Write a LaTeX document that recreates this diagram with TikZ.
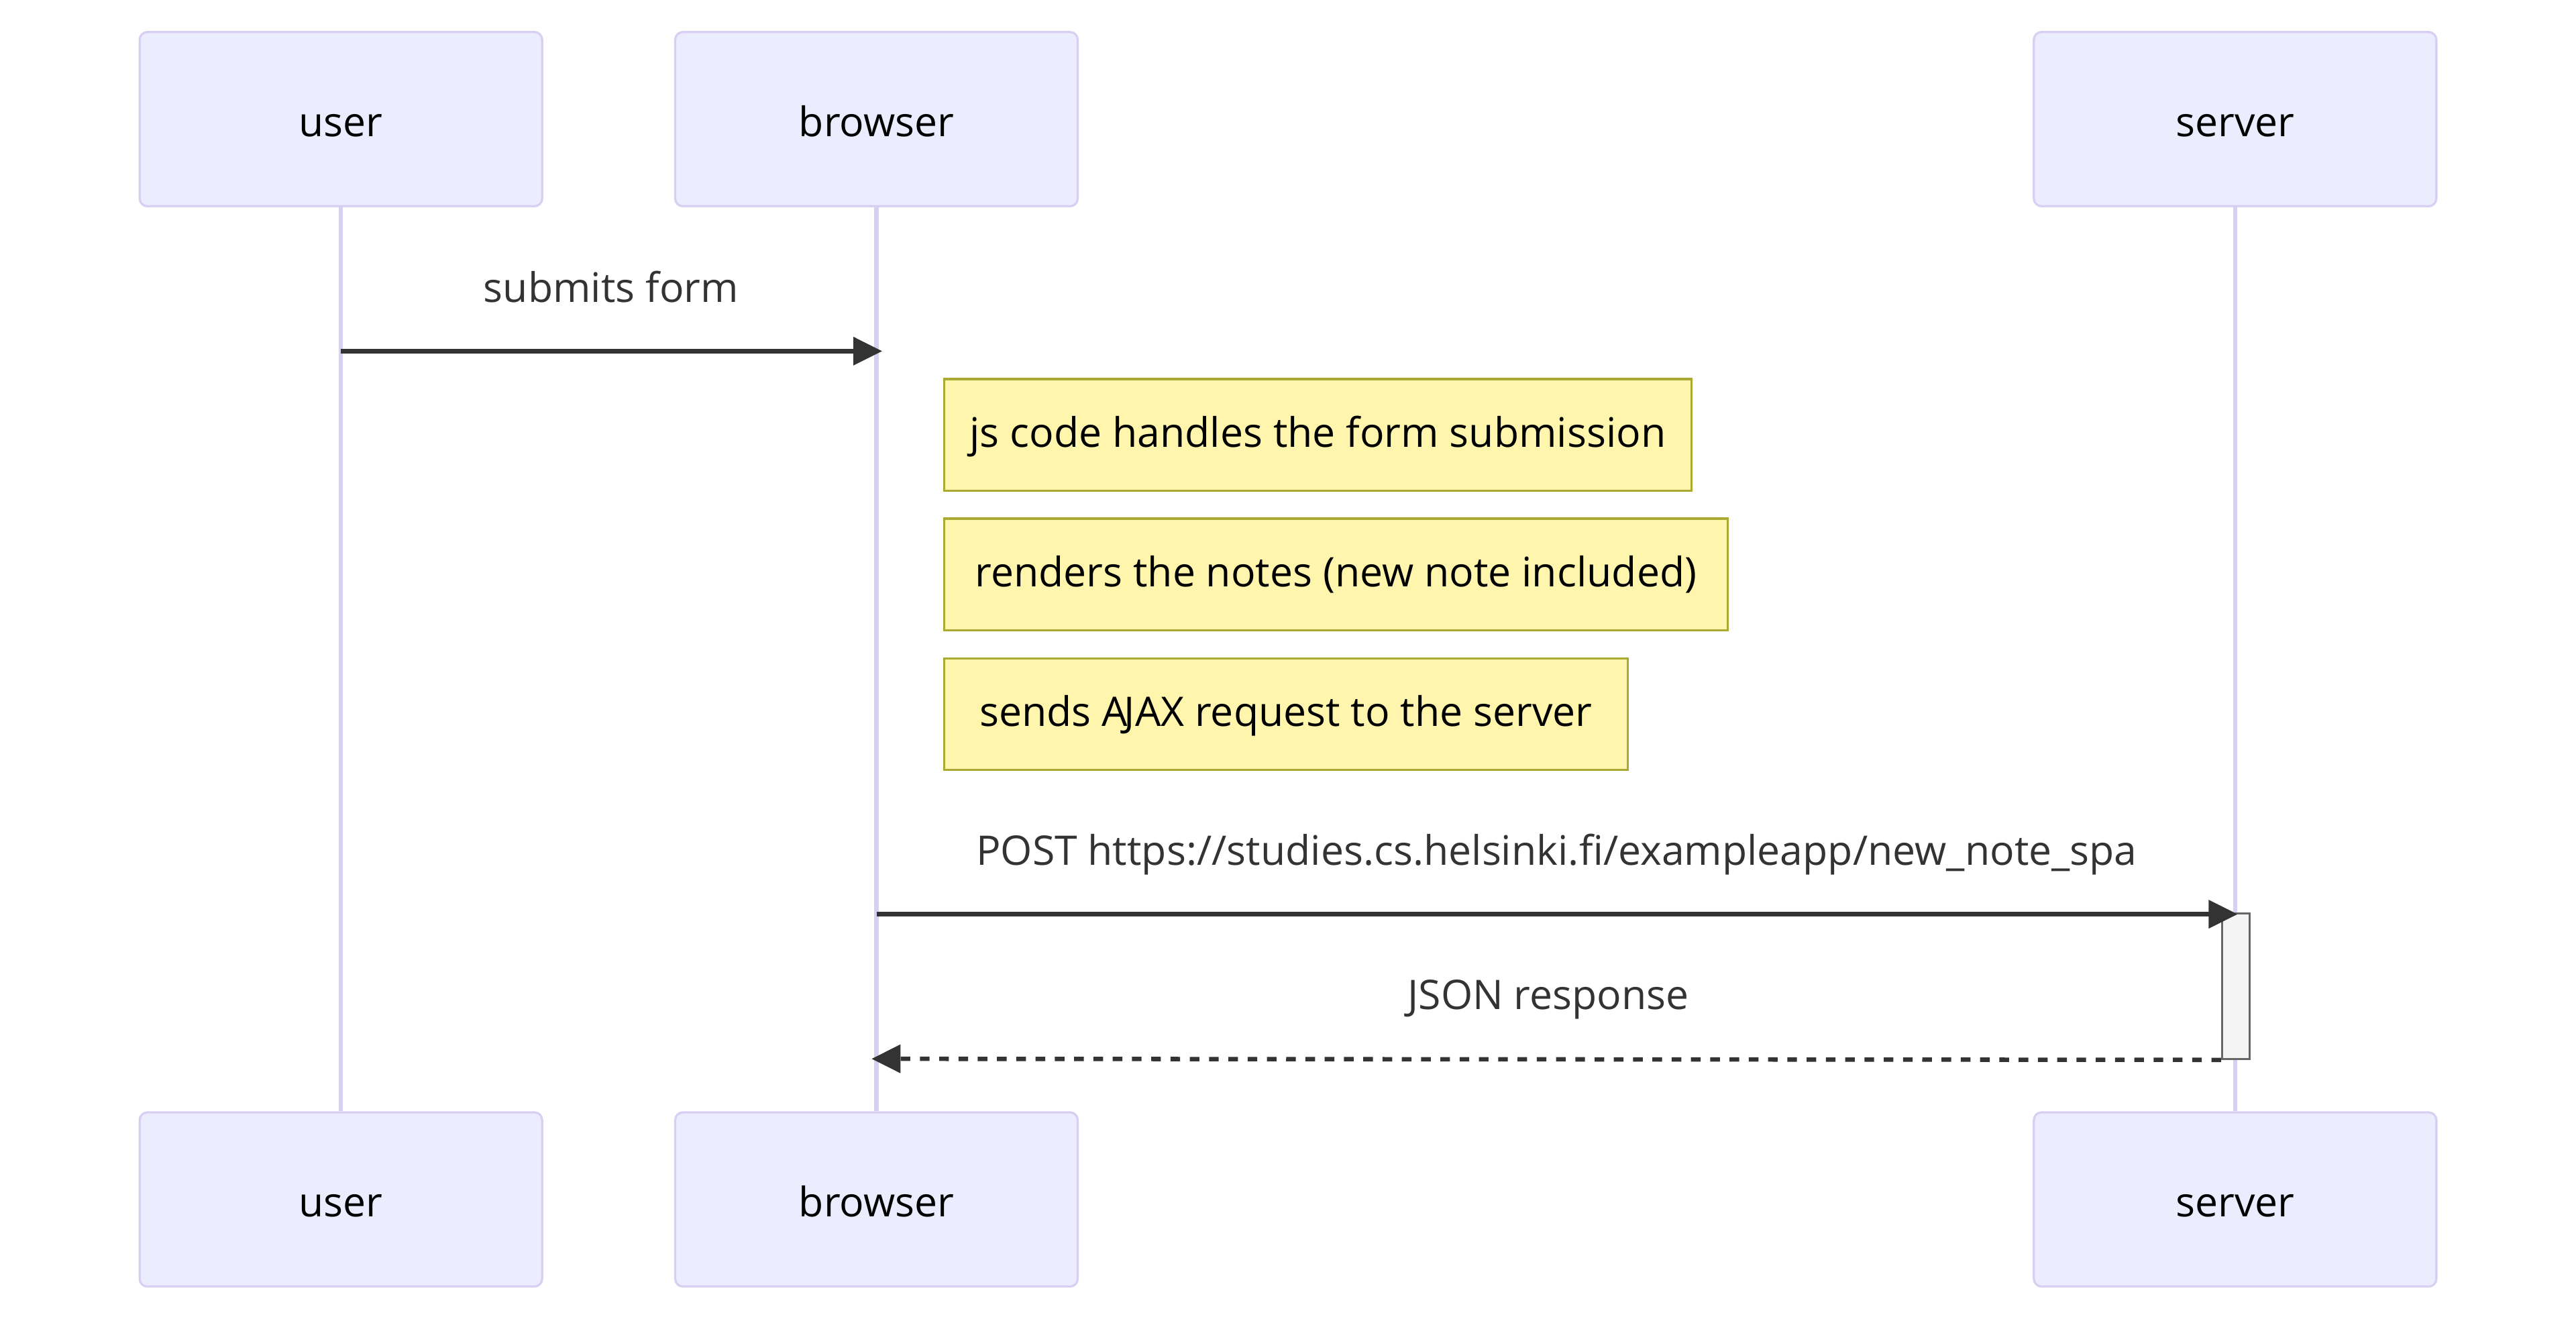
\documentclass[tikz,border=0pt]{standalone}
\usepackage{fontspec}
\setmainfont{Open Sans}
\usetikzlibrary{arrows.meta}
\definecolor{actorfill}{HTML}{ECECFF}
\definecolor{actorline}{HTML}{D9CFF3}
\definecolor{notefill}{HTML}{FFF5AD}
\definecolor{noteline}{HTML}{AAAA33}
\definecolor{msgtext}{HTML}{333333}
\definecolor{actfill}{HTML}{F4F4F4}
\definecolor{actline}{HTML}{666666}
\begin{document}
\begin{tikzpicture}[x=0.75pt, y=-0.75pt,
  every node/.style={font=\fontsize{18.6}{22}\selectfont, inner sep=0pt},
  actor/.style={draw=actorline, fill=actorfill, line width=1pt, rounded corners=3.5pt, minimum width=183.75pt, minimum height=79.5pt, text height=16.5pt, text depth=0.75pt},
  note/.style={draw=noteline, fill=notefill, line width=1pt, anchor=north west, minimum height=51pt, text height=12pt, text depth=0.9pt},
  life/.style={draw=actorline, line width=2pt},
  msg/.style={draw=msgtext, line width=2pt, -{Triangle[length=13.2pt, width=12.6pt]}},
  reply/.style={msg, dash pattern=on 4.4pt off 4.4pt},
  msglabel/.style={text=msgtext, anchor=base},
  actbox/.style={draw=actline, fill=actfill, line width=1pt, minimum width=12.6pt, minimum height=66.3pt}]
\useasboundingbox (0,0) rectangle (1568,801.15);
\node[actor] (userT) at (207.5,72.5) {user};
\node[actor] (browserT) at (533.5,72.5) {browser};
\node[actor] (serverT) at (1360.5,72.5) {server};
\node[actor] (userB) at (207.5,730) {user};
\node[actor] (browserB) at (533.5,730) {browser};
\node[actor] (serverB) at (1360.5,730) {server};
\draw[life] (userT.south) -- (userB.north);
\draw[life] (browserT.south) -- (browserB.north);
\draw[life] (serverT.south) -- (serverB.north);
\coordinate (m1a) at (207.5,213.7);
\coordinate (m1b) at (537,213.7);
\node[msglabel] (lbl1) at (372,183.8) {submits form};
\draw[msg] (m1a) -- (m1b);
\node[note, minimum width=341.25pt] (note1) at (574,230) {js code handles the form submission};
\node[note, minimum width=357.75pt] (note2) at (574,315) {renders the notes (new note included)};
\node[note, minimum width=312pt] (note3) at (574,400) {sends A\kern-1.5pt JAX request to the server};
\node[actbox] (srvact) at (1361,600.2) {};
\coordinate (m2a) at (533.5,556.4);
\coordinate (m2b) at (1362,556.4);
\node[msglabel] (lbl2) at (947.5,526.5) {POST https://studies.cs.helsinki.fi/exampleapp/new\_note\_spa};
\draw[msg] (m2a) -- (m2b);
\coordinate (m3b) at (530.5,644.4);
\node[msglabel] (lbl3) at (942.5,614.5) {JSON response};
\draw[reply] (srvact.south west) -- (m3b);
\end{tikzpicture}
\end{document}
